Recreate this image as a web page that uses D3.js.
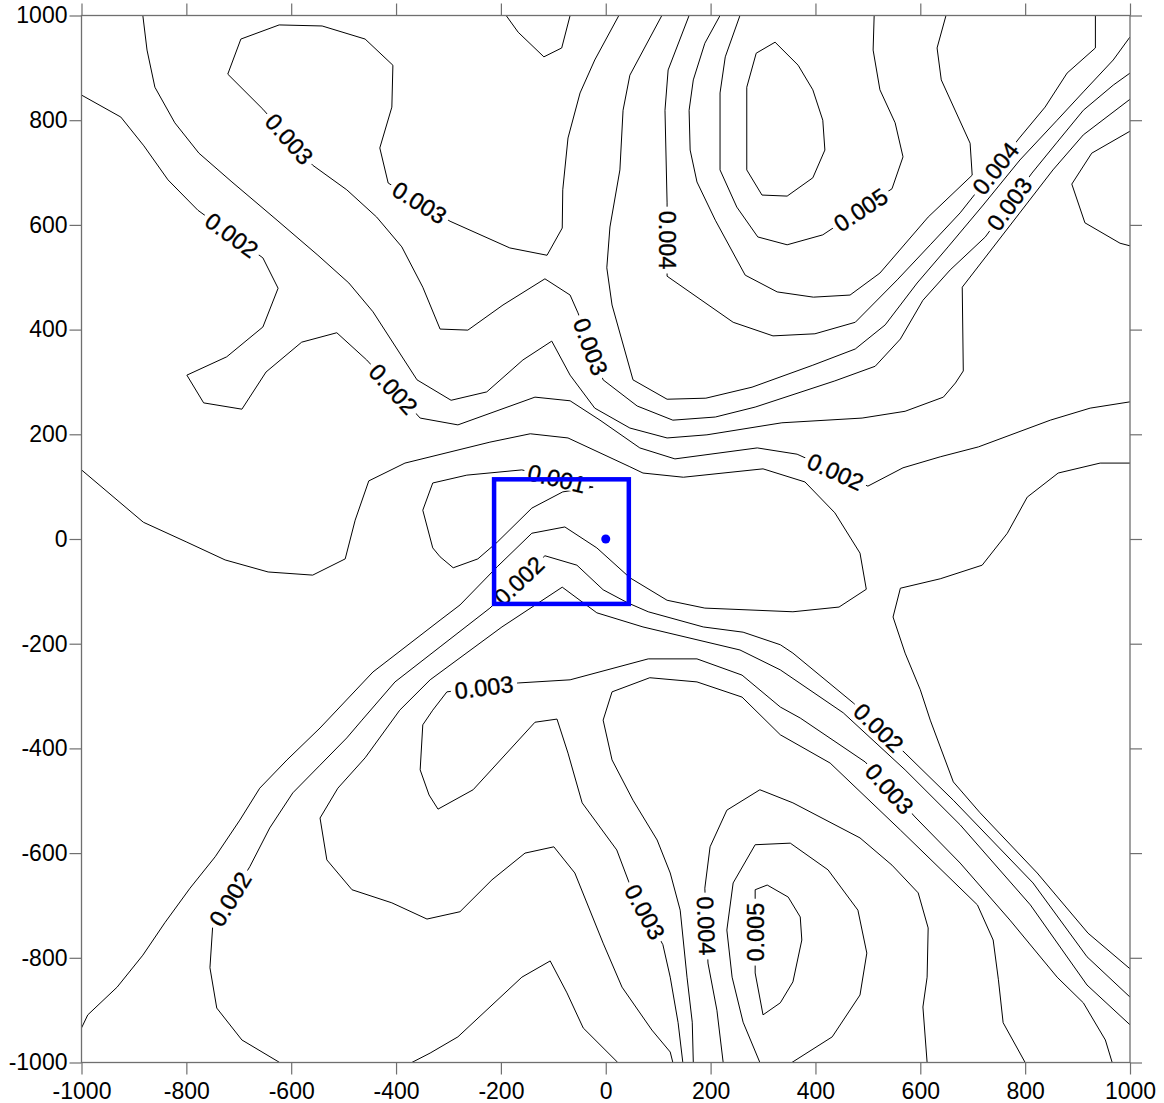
<!DOCTYPE html>
<html>
<head>
<meta charset="utf-8">
<script src="https://cdn.jsdelivr.net/npm/d3@7"></script>
<style>
  body { margin: 0; background: #fff; }
  text { font-family: "Liberation Sans", Arial, sans-serif; }
</style>
</head>
<body>
<svg id="chart" width="1164" height="1103"></svg>
<script>
// ---- axis ticks (map units) ----
const xTicks = [-1000, -800, -600, -400, -200, 0, 200, 400, 600, 800, 1000];
const yTicks = [-1000, -800, -600, -400, -200, 0, 200, 400, 600, 800, 1000];

// ---- contour vertices, [x, y] in map units ----
const c0010 = [[-160,132],[-265,122],[-330,107],[-349,55],[-330,-17],[-316,-34],[-291,-55],[-244,-38],[-207,-6],[-141,59],[-82,90],[-24,99]];

const c0015Main = [[-1000,132],[-882,32],[-799,-6],[-726,-40],[-644,-63],[-559,-69],[-497,-38],[-478,36],[-452,111],[-383,145],[-221,185],[-144,201],[-72,193],[46,138],[71,126],[148,118],[300,134],[380,109],[437,50],[485,-27],[497,-96],[445,-130],[357,-139],[189,-132],[117,-117],[46,-74],[-17,-17],[-78,23],[-141,11],[-207,-53],[-278,-126],[-316,-155],[-444,-254],[-545,-361],[-608,-422],[-660,-476],[-698,-537],[-745,-607],[-793,-667],[-841,-733],[-883,-795],[-932,-856],[-988,-909],[-1000,-934]];
const c0015East = [[1000,145],[943,145],[863,126],[804,80],[766,11],[718,-50],[638,-76],[562,-94],[548,-149],[571,-218],[600,-288],[619,-346],[663,-464],[714,-523],[823,-638],[920,-753],[1000,-821]];

const c0020North = [[-1000,848],[-925,806],[-881,751],[-835,686],[-778,628],[-654,537],[-625,479],[-654,405],[-723,348],[-799,313],[-767,260],[-694,248],[-648,319],[-580,376],[-513,394],[-456,342],[-354,231],[-282,218],[-135,271],[-68,264],[-11,227],[65,174],[132,153],[289,174],[365,162],[500,101],[567,136],[638,157],[711,176],[848,227],[924,250],[1000,262]];
const c0020South = [[-622,-1000],[-694,-957],[-742,-896],[-755,-819],[-750,-743],[-679,-626],[-641,-552],[-597,-485],[-545,-432],[-494,-380],[-465,-346],[-402,-273],[-316,-206],[-221,-132],[-116,-32],[-55,-50],[-5,-97],[42,-122],[81,-139],[186,-168],[262,-178],[333,-202],[357,-218],[472,-313],[571,-409],[663,-499],[815,-657],[918,-798],[1000,-875]];
const c0020Trough = [[-370,-1000],[-335,-982],[-282,-951],[-160,-837],[-106,-806],[-74,-867],[-43,-934],[23,-1000]];
const c0020Edge = [[1000,779],[927,737],[889,678],[914,604],[981,565],[1000,560]];

const c0025North = [[-883,1000],[-875,934],[-860,863],[-822,795],[-776,737],[-713,682],[-627,609],[-549,542],[-490,489],[-444,434],[-360,304],[-295,265],[-227,281],[-158,342],[-103,378],[-68,313],[-21,250],[46,212],[117,193],[193,199],[336,222],[489,231],[571,244],[644,271],[667,298],[682,321],[680,481],[853,705],[911,772],[1000,840]];
const c0025South = [[128,-1000],[123,-980],[88,-938],[31,-856],[-5,-772],[-59,-638],[-99,-588],[-154,-600],[-217,-651],[-278,-712],[-341,-726],[-408,-695],[-484,-670],[-532,-613],[-545,-533],[-511,-476],[-459,-418],[-393,-327],[-335,-269],[-198,-168],[-83,-92],[-17,-141],[71,-168],[256,-212],[333,-250],[453,-332],[571,-441],[676,-546],[810,-699],[918,-852],[1000,-928]];

const c0030North = [[25,1000],[-21,915],[-49,852],[-72,766],[-82,667],[-83,594],[-112,542],[-183,556],[-297,607],[-415,680],[-431,747],[-408,825],[-406,905],[-459,955],[-541,980],[-623,982],[-696,955],[-721,888],[-654,821],[-559,714],[-494,667],[-437,615],[-389,558],[-349,481],[-316,401],[-263,399],[-196,447],[-116,497],[-68,466],[-53,432],[-5,304],[60,254],[128,227],[209,233],[285,252],[437,302],[514,330],[562,382],[605,456],[657,514],[724,577],[813,699],[861,758],[911,819],[968,867],[1000,890]];
const c0030Cap = [[-190,1000],[-167,968],[-118,921],[-84,938],[-68,1000]];
const c0030South = [[147,-1000],[138,-924],[123,-837],[109,-775],[44,-655],[21,-594],[-45,-504],[-72,-409],[-93,-344],[-135,-350],[-253,-479],[-320,-516],[-337,-489],[-354,-441],[-349,-355],[-330,-327],[-303,-292],[-167,-275],[-68,-269],[81,-229],[174,-229],[260,-260],[333,-321],[371,-342],[495,-426],[590,-531],[676,-619],[771,-728],[861,-837],[911,-886],[953,-957],[966,-1000]];

const c0035North = [[107,1000],[46,886],[33,819],[27,705],[8,596],[2,518],[12,447],[52,304],[117,267],[191,269],[279,290],[395,332],[476,363],[533,409],[562,447],[594,489],[653,558],[720,638],[790,724],[861,800],[911,854],[968,915],[1000,959]];
const c0035South = [[167,-1000],[165,-923],[155,-837],[142,-709],[123,-638],[98,-575],[52,-499],[12,-422],[-5,-346],[12,-292],[84,-265],[174,-273],[260,-302],[333,-374],[428,-428],[562,-556],[709,-699],[739,-766],[749,-842],[758,-924],[800,-1000]];

const c0040North = [[159,1000],[119,896],[113,819],[117,642],[117,502],[243,414],[319,388],[399,392],[476,414],[556,495],[619,562],[676,623],[789,766],[838,825],[880,890],[934,938],[934,1000]];
const c0040South = [[224,-1000],[212,-900],[195,-810],[189,-667],[199,-588],[231,-518],[294,-479],[357,-504],[485,-571],[546,-623],[596,-676],[615,-743],[613,-837],[605,-894],[613,-1000]];

const c0045North = [[218,1000],[189,947],[167,877],[159,819],[161,743],[174,682],[209,609],[266,504],[327,472],[396,462],[466,466],[523,508],[615,615],[699,695],[695,756],[640,877],[632,938],[649,1000]];
const c0045South = [[294,-1000],[262,-923],[241,-837],[231,-747],[243,-657],[285,-584],[352,-581],[424,-632],[481,-709],[498,-791],[485,-871],[432,-951],[355,-1000]];

const c0050North = [[256,1000],[228,921],[218,852],[218,705],[250,634],[290,577],[346,562],[414,581],[546,669],[567,730],[552,795],[523,858],[510,934],[512,1000]];
const c0050South = [[308,-661],[348,-684],[371,-722],[374,-766],[357,-846],[333,-886],[300,-909],[285,-829],[285,-670]];

const c0055North = [[323,949],[367,905],[395,858],[414,800],[418,743],[395,690],[346,655],[298,657],[269,705],[269,863],[287,928]];

// station and survey window
const station = [0, 0];
const windowX = [-213, 44];
const windowY = [-124, 114];

// contour set: level, vertices, closed ring or open, label anchors (map units)
const contours = [
  { level: 0.001,  pts: c0010,      closed: true,  labels: [[-93,117]] },
  { level: 0.0015, pts: c0015Main,  closed: false, labels: [] },
  { level: 0.0015, pts: c0015East,  closed: false, labels: [] },
  { level: 0.002,  pts: c0020North, closed: false, labels: [[-713,581],[-406,286],[440,132]] },
  { level: 0.002,  pts: c0020South, closed: false, labels: [[-713,-690],[-167,-78],[520,-361]] },
  { level: 0.002,  pts: c0020Trough,closed: false, labels: [] },
  { level: 0.002,  pts: c0020Edge,  closed: false, labels: [] },
  { level: 0.0025, pts: c0025North, closed: false, labels: [] },
  { level: 0.0025, pts: c0025South, closed: false, labels: [] },
  { level: 0.003,  pts: c0030North, closed: false, labels: [[-606,762],[-358,638],[-30,367],[767,642]] },
  { level: 0.003,  pts: c0030Cap,   closed: false, labels: [] },
  { level: 0.003,  pts: c0030South, closed: false, labels: [[75,-712],[-232,-285],[539,-479]] },
  { level: 0.0035, pts: c0035North, closed: false, labels: [] },
  { level: 0.0035, pts: c0035South, closed: false, labels: [] },
  { level: 0.004,  pts: c0040North, closed: false, labels: [[115,571],[747,705]] },
  { level: 0.004,  pts: c0040South, closed: false, labels: [[193,-739]] },
  { level: 0.0045, pts: c0045North, closed: false, labels: [] },
  { level: 0.0045, pts: c0045South, closed: false, labels: [] },
  { level: 0.005,  pts: c0050North, closed: false, labels: [[489,625]] },
  { level: 0.005,  pts: c0050South, closed: true,  labels: [[283,-751]], flip: true },
  { level: 0.0055, pts: c0055North, closed: true,  labels: [] }
];

const W = 1164, H = 1103;
const x = d3.scaleLinear().domain([-1000, 1000]).range([81.5, 1130]);
const y = d3.scaleLinear().domain([-1000, 1000]).range([1062.5, 15.5]);

const svg = d3.select("#chart");
const defs = svg.append("defs");
defs.append("clipPath").attr("id", "plotClip")
  .append("rect")
  .attr("x", x(-1000)).attr("y", y(1000))
  .attr("width", x(1000) - x(-1000)).attr("height", y(-1000) - y(1000));

const fmt = d3.format(".3f");
const labelFont = 23.5;

// walk along a pixel polyline
function cumLengths(p) {
  const s = [0];
  for (let i = 1; i < p.length; i++) s.push(s[i-1] + Math.hypot(p[i][0]-p[i-1][0], p[i][1]-p[i-1][1]));
  return s;
}
function pointAt(p, s, d) {
  d = Math.max(0, Math.min(s[s.length-1], d));
  for (let i = 1; i < p.length; i++) {
    if (d <= s[i]) {
      const t = (d - s[i-1]) / ((s[i] - s[i-1]) || 1);
      return [p[i-1][0] + t*(p[i][0]-p[i-1][0]), p[i-1][1] + t*(p[i][1]-p[i-1][1])];
    }
  }
  return p[p.length-1];
}
function project(p, s, q) {
  let best = null;
  for (let i = 0; i < p.length - 1; i++) {
    const a = p[i], b = p[i+1];
    const dx = b[0]-a[0], dy = b[1]-a[1];
    const L2 = dx*dx + dy*dy;
    let t = L2 ? ((q[0]-a[0])*dx + (q[1]-a[1])*dy) / L2 : 0;
    t = Math.max(0, Math.min(1, t));
    const c = [a[0]+t*dx, a[1]+t*dy];
    const d2 = (c[0]-q[0])**2 + (c[1]-q[1])**2;
    if (!best || d2 < best.d2) best = { d2, pos: c, along: s[i] + t*Math.sqrt(L2) };
  }
  return best;
}

const gLines = svg.append("g").attr("clip-path", "url(#plotClip)");
const gLabels = svg.append("g");
const line = d3.line().x(d => x(d[0])).y(d => y(d[1]));

contours.forEach((c, ci) => {
  const ring = c.closed ? c.pts.concat([c.pts[0]]) : c.pts;
  const px = ring.map(d => [x(d[0]), y(d[1])]);
  const s = cumLengths(px);

  const placed = c.labels.map(l => {
    const t = gLabels.append("text")
      .attr("font-size", labelFont)
      .attr("fill", "#000")
      .attr("stroke", "#000")
      .attr("stroke-width", 0.35)
      .attr("text-anchor", "middle")
      .attr("dy", "0.36em")
      .text(fmt(c.level));
    const w = t.node().getComputedTextLength();
    const pr = project(px, s, [x(l[0]), y(l[1])]);
    const a = pointAt(px, s, pr.along - w/2), b = pointAt(px, s, pr.along + w/2);
    let ang = Math.atan2(b[1]-a[1], b[0]-a[0]) * 180 / Math.PI;
    if (ang > 90) ang -= 180;
    if (ang <= -90) ang += 180;
    if (c.flip) ang += 180;
    t.attr("transform", `translate(${pr.pos[0]},${pr.pos[1]}) rotate(${ang})`);
    return { pos: pr.pos, ang, w };
  });

  let maskUrl = null;
  if (placed.length) {
    const m = defs.append("mask").attr("id", "lblMask" + ci)
      .attr("maskUnits", "userSpaceOnUse")
      .attr("x", 0).attr("y", 0).attr("width", W).attr("height", H);
    m.append("rect").attr("x", 0).attr("y", 0).attr("width", W).attr("height", H).attr("fill", "#fff");
    placed.forEach(p => {
      m.append("rect")
        .attr("x", -p.w/2 - 4).attr("y", -9).attr("width", p.w + 8).attr("height", 18)
        .attr("fill", "#000")
        .attr("transform", `translate(${p.pos[0]},${p.pos[1]}) rotate(${p.ang})`);
    });
    maskUrl = `url(#lblMask${ci})`;
  }

  gLines.append("path")
    .attr("d", line(ring))
    .attr("fill", "none")
    .attr("stroke", "#000")
    .attr("stroke-width", 1)
    .attr("stroke-linejoin", "round")
    .attr("mask", maskUrl);
});

// ---- frame and axes ----
const tickLen = 12;
const axisColor = "#6f6f6f";
const tickFmt = d => String(d);

function styleAxis(g) {
  g.select(".domain").remove();
  g.selectAll(".tick line").attr("stroke", axisColor).attr("stroke-width", 1.2);
  g.selectAll(".tick text").attr("font-size", 23).attr("fill", "#000")
    .attr("font-family", '"Liberation Sans", Arial, sans-serif');
}

svg.append("g").attr("transform", `translate(0,${y(-1000)})`)
  .call(d3.axisBottom(x).tickValues(xTicks).tickFormat(tickFmt).tickSize(tickLen).tickPadding(8))
  .call(styleAxis);
svg.append("g").attr("transform", `translate(0,${y(1000)})`)
  .call(d3.axisTop(x).tickValues(xTicks).tickFormat("").tickSize(tickLen))
  .call(styleAxis);
svg.append("g").attr("transform", `translate(${x(-1000)},0)`)
  .call(d3.axisLeft(y).tickValues(yTicks).tickFormat(tickFmt).tickSize(tickLen).tickPadding(2))
  .call(styleAxis);
svg.append("g").attr("transform", `translate(${x(1000)},0)`)
  .call(d3.axisRight(y).tickValues(yTicks).tickFormat("").tickSize(tickLen))
  .call(styleAxis);

svg.append("rect")
  .attr("x", x(-1000)).attr("y", y(1000))
  .attr("width", x(1000) - x(-1000)).attr("height", y(-1000) - y(1000))
  .attr("fill", "none").attr("stroke", axisColor).attr("stroke-width", 1.3);

// ---- survey window and station ----
svg.append("rect")
  .attr("x", x(windowX[0])).attr("y", y(windowY[1]))
  .attr("width", x(windowX[1]) - x(windowX[0]))
  .attr("height", y(windowY[0]) - y(windowY[1]))
  .attr("fill", "none").attr("stroke", "#0000ff").attr("stroke-width", 4.5);
svg.append("circle")
  .attr("cx", x(station[0])).attr("cy", y(station[1])).attr("r", 4.5)
  .attr("fill", "#0000ff");
</script>
</body>
</html>
